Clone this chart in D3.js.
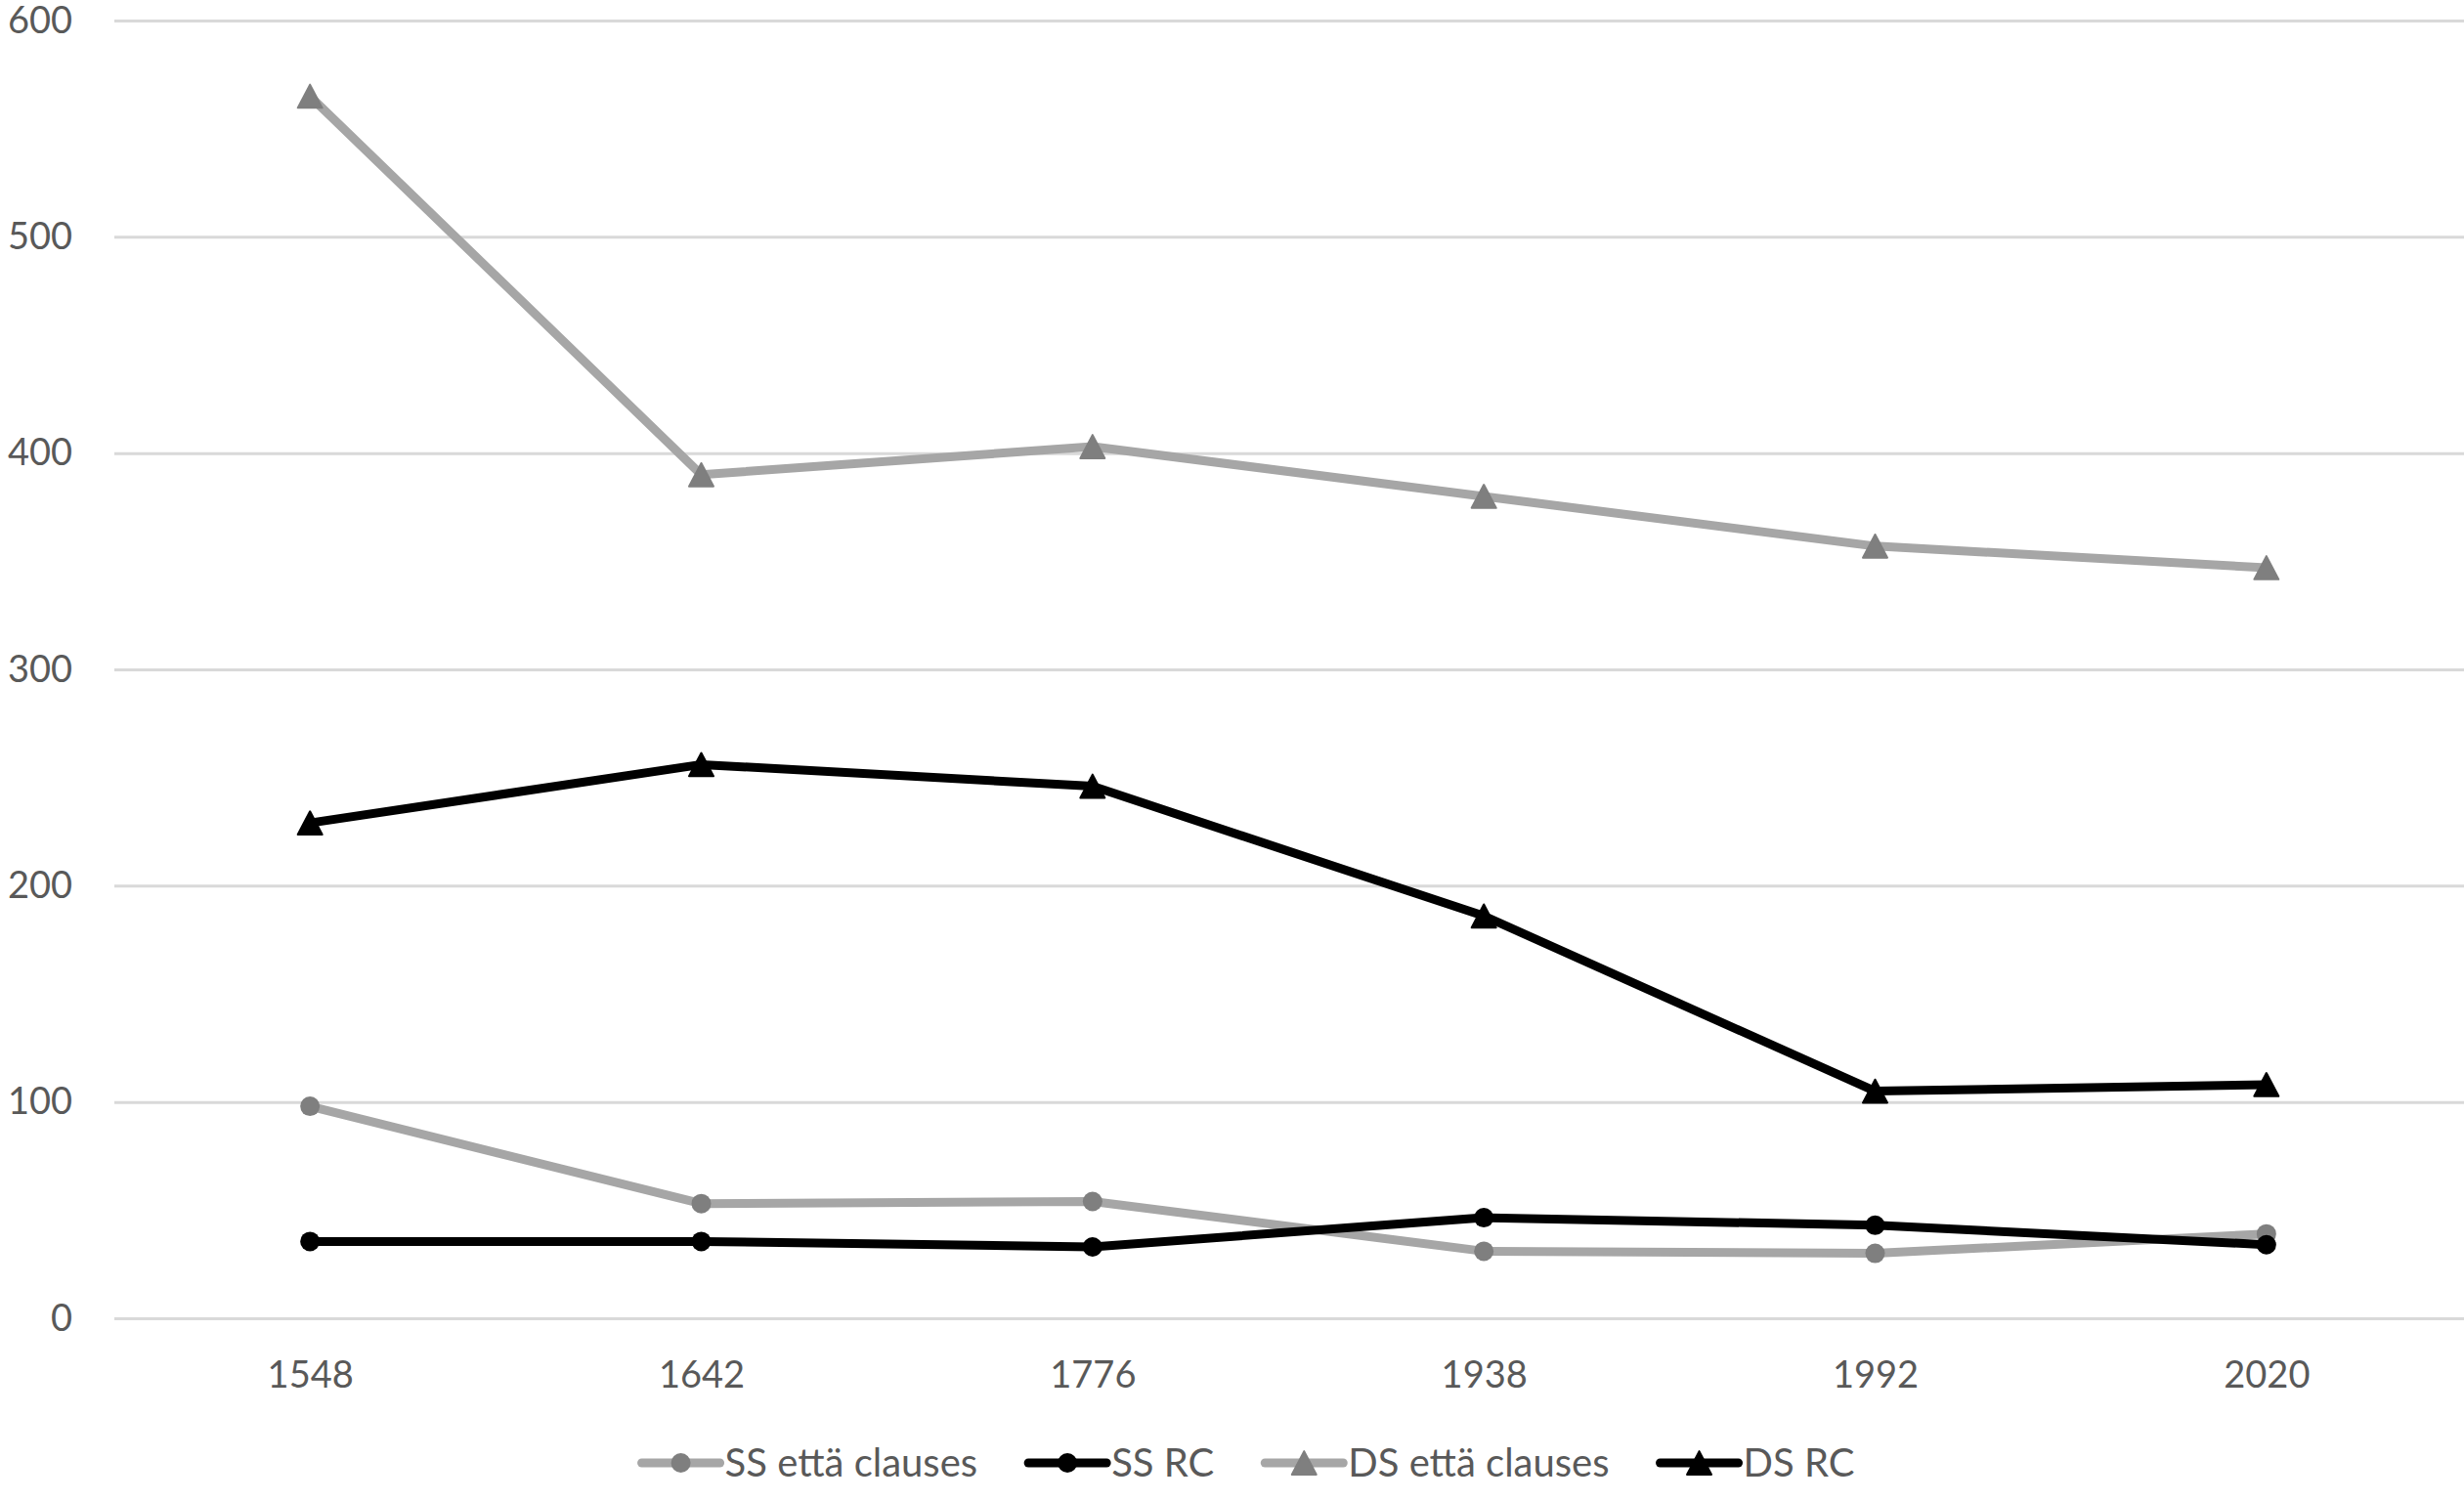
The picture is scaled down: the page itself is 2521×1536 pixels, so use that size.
<!DOCTYPE html>
<html>
<head>
<meta charset="utf-8">
<script src="https://cdn.jsdelivr.net/npm/d3@7"></script>
<style>
  html, body { margin: 0; padding: 0; background: #ffffff; }
  svg { display: block; }
</style>
</head>
<body>
<svg id="chart" width="2521" height="1536"></svg>
<script>
const years = ["1548", "1642", "1776", "1938", "1992", "2020"];
const ssEtta = [98, 53, 54, 31, 30, 39];
const ssRC = [35.5, 35.5, 33, 46.5, 43, 34];
const dsEtta = [565, 390, 403, 380, 357, 347];
const dsRC = [229, 256, 246, 186, 105, 108];
const yTicks = [0, 100, 200, 300, 400, 500, 600];
const seriesNames = ["SS että clauses", "SS RC", "DS että clauses", "DS RC"];

const series = [
  { name: seriesNames[0], values: ssEtta, line: "#a6a6a6", marker: "#7f7f7f", shape: "circle" },
  { name: seriesNames[1], values: ssRC, line: "#000000", marker: "#000000", shape: "circle" },
  { name: seriesNames[2], values: dsEtta, line: "#a6a6a6", marker: "#7f7f7f", shape: "triangle" },
  { name: seriesNames[3], values: dsRC, line: "#000000", marker: "#000000", shape: "triangle" }
];

const svg = d3.select("#chart");
const font = "Lato, 'Open Sans', sans-serif";
const textColor = "#595959";
const fontSize = 38;
const legendFontSize = 40;

const plotLeft = 117, plotRight = 2519, plotTop = 21, plotBottom = 1349;

const x = d3.scalePoint().domain(years).range([plotLeft, plotRight]).padding(0.5);
const y = d3.scaleLinear().domain([0, 600]).range([plotBottom, plotTop]);

// gridlines
const grid = svg.append("g").attr("transform", `translate(${plotLeft},0)`)
  .call(d3.axisLeft(y).tickValues(yTicks).tickSize(-(plotRight - plotLeft + 2)).tickFormat(""));
grid.select(".domain").remove();
grid.selectAll(".tick line").attr("stroke", "#d9d9d9").attr("stroke-width", 3);

// y labels
const yAxis = svg.append("g").attr("transform", `translate(${plotLeft},0)`)
  .call(d3.axisLeft(y).tickValues(yTicks).tickSize(0).tickPadding(43).tickFormat(d3.format("d")));
yAxis.select(".domain").remove();
yAxis.selectAll("text").attr("font-family", font).attr("font-size", fontSize).attr("fill", textColor);

// x labels
const xAxis = svg.append("g").attr("transform", `translate(0,${plotBottom})`)
  .call(d3.axisBottom(x).tickSize(0).tickPadding(44));
xAxis.select(".domain").remove();
xAxis.selectAll("text").attr("font-family", font).attr("font-size", fontSize).attr("fill", textColor);

const line = d3.line().x((d, i) => x(years[i])).y(d => y(d));
const triSize = 25;
const triPath = (cx, cy, s) => {
  const h = s * 0.95;
  return `M${cx},${cy - h / 2}L${cx + s / 2},${cy + h / 2}L${cx - s / 2},${cy + h / 2}Z`;
};

series.forEach(s => {
  const g = svg.append("g");
  g.append("path").datum(s.values)
    .attr("d", line)
    .attr("fill", "none")
    .attr("stroke", s.line)
    .attr("stroke-width", 9)
    .attr("stroke-linejoin", "round")
    .attr("stroke-linecap", "round");
  if (s.shape === "circle") {
    g.selectAll("circle").data(s.values).join("circle")
      .attr("cx", (d, i) => x(years[i]))
      .attr("cy", d => y(d))
      .attr("r", 10)
      .attr("fill", s.marker);
  } else {
    g.selectAll("path.m").data(s.values).join("path")
      .attr("class", "m")
      .attr("d", (d, i) => triPath(x(years[i]), y(d), triSize))
      .attr("fill", s.marker)
      .attr("stroke", s.marker)
      .attr("stroke-width", 2)
      .attr("stroke-linejoin", "round");
  }
});

// legend
const legendY = 1497;
const lineLen = 80, gapLineText = 5, itemGap = 52;
const legend = svg.append("g");
let cursor = 0;
series.forEach(s => {
  const g = legend.append("g").attr("transform", `translate(${cursor},0)`);
  g.append("line").attr("x1", 0).attr("x2", lineLen).attr("y1", legendY).attr("y2", legendY)
    .attr("stroke", s.line).attr("stroke-width", 9).attr("stroke-linecap", "round");
  if (s.shape === "circle") {
    g.append("circle").attr("cx", lineLen / 2).attr("cy", legendY).attr("r", 10).attr("fill", s.marker);
  } else {
    g.append("path").attr("d", triPath(lineLen / 2, legendY, triSize)).attr("fill", s.marker)
      .attr("stroke", s.marker).attr("stroke-width", 2).attr("stroke-linejoin", "round");
  }
  const t = g.append("text").attr("x", lineLen + gapLineText).attr("y", legendY)
    .attr("dy", "0.35em").attr("font-family", font).attr("font-size", legendFontSize)
    .attr("fill", textColor).text(s.name);
  const w = t.node().getComputedTextLength();
  cursor += lineLen + gapLineText + w + itemGap;
});
const totalW = cursor - itemGap;
legend.attr("transform", `translate(${1277 - totalW / 2},0)`);
</script>
</body>
</html>
